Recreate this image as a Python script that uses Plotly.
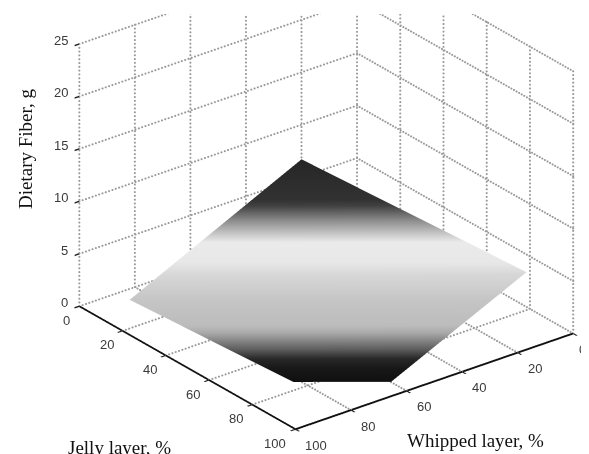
import math
import numpy as np
import plotly.graph_objects as go

# Data
jelly = [0, 81, 98, 81, 22]
whipped = [20, 2, 64, 86, 99]
fiber = [6.7, 3.8, 1.0, 1.0, 3.1]
tri_i = [0, 0, 0]
tri_j = [1, 2, 3]
tri_k = [2, 3, 4]
ticks_xy = [0, 20, 40, 60, 80, 100]
ticks_z = [0, 5, 10, 15, 20, 25]
shade_pos = [0, 0.06, 0.10, 0.14, 0.22, 0.25, 0.365, 0.477, 0.536, 0.626, 0.66, 0.725, 0.793, 0.82, 1.0]
shade_val = [16, 24, 40, 90, 170, 188, 197, 215, 232, 234, 205, 140, 65, 50, 38]

colorscale = [[p, f"rgb({v},{v},{v})"] for p, v in zip(shade_pos, shade_val)]
fig = go.Figure()
fig.add_trace(go.Mesh3d(x=whipped, y=jelly, z=fiber, i=tri_i, j=tri_j, k=tri_k,
                        intensity=fiber, colorscale=colorscale, showscale=False,
                        flatshading=True, hoverinfo="skip",
                        lighting=dict(ambient=1, diffuse=0, specular=0, fresnel=0, roughness=1)))

gx, gy, gz = [], [], []
def seg(a, b, n):
    for s in np.linspace(0, 1, n):
        gx.append(a[0] + (b[0] - a[0]) * s)
        gy.append(a[1] + (b[1] - a[1]) * s)
        gz.append(a[2] + (b[2] - a[2]) * s)
for t in ticks_xy[:-1]:
    seg((t, 0, 0), (t, 100, 0), 85)     # floor (front edges are the axes)
    seg((0, t, 0), (100, t, 0), 85)
for t in ticks_xy:
    seg((t, 0, 0), (t, 0, 25), 70)      # jelly=0 wall
    seg((0, t, 0), (0, t, 25), 70)      # whipped=0 wall
for t in ticks_z:
    seg((0, 0, t), (100, 0, t), 85)
    seg((0, 0, t), (0, 100, t), 85)
fig.add_trace(go.Scatter3d(x=gx, y=gy, z=gz, mode="markers", hoverinfo="skip", showlegend=False,
                           marker=dict(color="#999999", size=1.2, line=dict(width=0))))

axis_common = dict(showgrid=False, zeroline=False, showbackground=False, showline=True,
                   linecolor="#111111", linewidth=4, ticks="outside", ticklen=6, tickwidth=3,
                   tickcolor="#222222",
                   showticklabels=False, showspikes=False, title=dict(text=""))

tick_font = dict(family="Liberation Sans", size=13, color="#3a3a3a")
tick_labels = []
for t in ticks_xy:
    tick_labels.append(dict(x=100, y=t, z=0, text=str(t), showarrow=False, font=tick_font,
                            xanchor="right", yanchor="middle", xshift=-7, yshift=-14))
    tick_labels.append(dict(x=t, y=100, z=0, text=str(t), showarrow=False, font=tick_font,
                            xanchor="left", yanchor="middle", xshift=8 if t else 4, yshift=-16))
for t in ticks_z:
    tick_labels.append(dict(x=100, y=0, z=t, text=str(t), showarrow=False, font=tick_font,
                            xanchor="right", yanchor="middle", xshift=-9, yshift=3.5))

theta = math.radians(37.9)
elev = math.radians(26.3)
d = (math.sin(theta) * math.cos(elev), math.cos(theta) * math.cos(elev), math.sin(elev))
right = (-math.cos(theta), math.sin(theta), 0)
up = (-math.sin(theta) * math.sin(elev), -math.cos(theta) * math.sin(elev), math.cos(elev))
a, b = -0.106, -0.22
center = tuple(a * r + b * u for r, u in zip(right, up))
dist = 1.5
eye = tuple(c + dist * v for c, v in zip(center, d))

title_font = dict(family="Liberation Serif", size=19, color="#111")
fig.update_layout(
    width=589, height=454, margin=dict(l=0, r=0, t=0, b=0),
    paper_bgcolor="white", showlegend=False,
    scene=dict(
        domain=dict(x=[0, 1], y=[0, 0.987]),
        aspectmode="manual", aspectratio=dict(x=1.571, y=1.571, z=1.306),
        xaxis=dict(range=[0, 100], tickvals=ticks_xy, **axis_common),
        yaxis=dict(range=[0, 100], tickvals=ticks_xy, **axis_common),
        zaxis=dict(range=[0, 25], tickvals=ticks_z, **{**axis_common, "showline": False}),
        annotations=tick_labels,
        camera=dict(projection=dict(type="orthographic"), up=dict(x=0, y=0, z=1),
                    center=dict(x=center[0], y=center[1], z=center[2]),
                    eye=dict(x=eye[0], y=eye[1], z=eye[2])),
    ),
    annotations=[
        dict(text="Dietary Fiber, g", x=17 / 589, y=1 - 141 / 454, xref="paper", yref="paper", textangle=-90,
             xanchor="center", yanchor="middle", showarrow=False, font=title_font),
        dict(text="Jelly layer, %", x=111 / 589, y=1 - 439 / 454, xref="paper", yref="paper",
             xanchor="center", yanchor="middle", showarrow=False, font=title_font),
        dict(text="Whipped layer, %", x=468 / 589, y=1 - 432 / 454, xref="paper", yref="paper",
             xanchor="center", yanchor="middle", showarrow=False, font=title_font),
    ],
)
fig.write_html("out.html")
